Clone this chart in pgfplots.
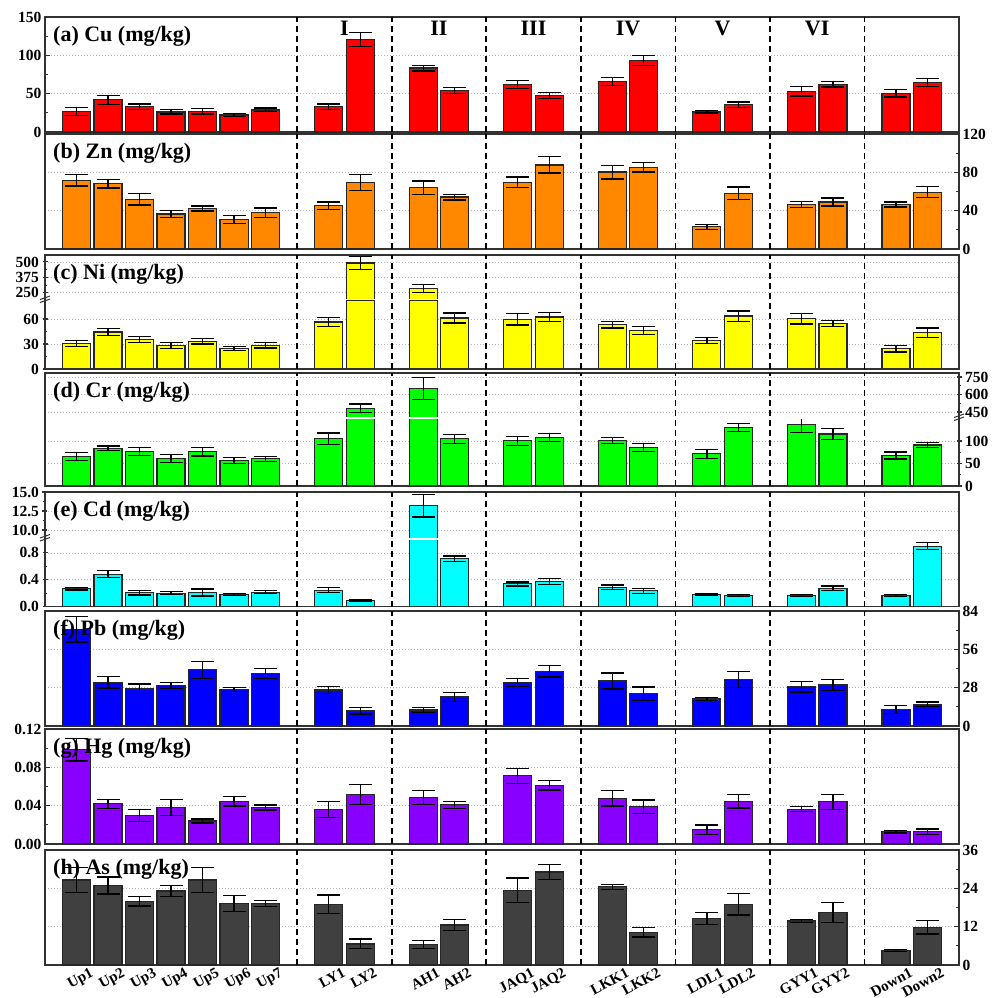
\documentclass[border=0pt]{standalone}
\usepackage{pgfplots}
\pgfplotsset{compat=1.18}
\usepackage{pgfplotstable}
\usepackage{fontspec}
\setmainfont{Liberation Serif}
\newcommand\tickfont{\bfseries\fontsize{15.5}{16}\selectfont}
\newcommand\titlefont{\bfseries\fontsize{22}{24}\selectfont}
\newcommand\catfont{\bfseries\fontsize{15}{16}\selectfont}
\definecolor{cCu}{RGB}{255,0,0}
\definecolor{cZn}{RGB}{255,136,0}
\definecolor{cNi}{RGB}{255,255,0}
\definecolor{cCr}{RGB}{0,255,0}
\definecolor{cCd}{RGB}{0,255,255}
\definecolor{cPb}{RGB}{0,0,255}
\definecolor{cHg}{RGB}{136,0,255}
\definecolor{cAs}{RGB}{64,64,64}
\definecolor{frm}{RGB}{50,50,50}

\pgfplotstableread{
x v e
1 26.6 5
2 41.9 5.7
3 32.8 3.7
4 26.2 2.8
5 27.0 3.5
6 22.3 2.0
7 28.8 2.4
9 32.8 3.7
10 120.5 9
12 83.4 3.7
13 53.7 3.9
15 62.0 5.2
16 47.6 3.9
18 65.5 5.2
19 93.4 6.8
21 26.2 1.5
22 35.8 3.5
24 53.3 6.5
25 62.4 3.7
27 50.7 5
28 64.6 5
}\tabA

\pgfplotstableread{
x v e
1 71.8 6
2 68.0 4.4
3 51.8 6
4 36.6 3.5
5 42.3 2.5
6 30.6 4
7 38.0 4.8
9 45.0 3.9
10 69.7 8.3
12 64.0 6.9
13 54.2 3
15 69.7 5.5
16 87.7 8.5
18 80.3 7.2
19 85.2 5
21 23.2 2.6
22 58.0 6.7
24 46.5 3
25 49.0 4.2
27 46.5 2.6
28 59.2 5.8
}\tabB

\pgfplotstableread{
x v e
1 30.6 4
2 44.4 4.4
3 35.3 3.4
4 28.2 3.4
5 33.3 3.2
6 24.6 2.6
7 28.6 3.4
9 56.3 5.6
10 492 51
12 285 31
13 61.1 6
15 59.5 6.7
16 62.3 5.5
18 53.2 4
19 46.4 4.6
21 34.1 3.6
22 63.5 6.2
24 60.3 6.3
25 54.8 3.8
27 24.2 3.8
28 43.7 5.6
}\tabC

\pgfplotstableread{
x v e
1 65 9
2 83.7 5
3 77 9
4 60.7 9
5 76.3 9.6
6 57 6.7
7 60.7 5.5
9 105 13
10 482 36
12 652 95
13 105 10
15 100.7 10
16 108 9
18 101.5 6.3
19 85.2 9
21 71.9 10
22 130 9
24 136 17
25 115.6 12.6
27 68 7.8
28 91 6
}\tabD

\pgfplotstableread{
x v e
1 0.264 0.017
2 0.483 0.052
3 0.209 0.035
4 0.199 0.02
5 0.209 0.052
6 0.179 0.017
7 0.214 0.02
9 0.244 0.035
10 0.095 0.012
12 13.2 1.47
13 0.716 0.04
15 0.338 0.03
16 0.373 0.047
18 0.289 0.03
19 0.234 0.037
21 0.179 0.01
22 0.169 0.015
24 0.169 0.015
25 0.274 0.03
27 0.169 0.015
28 0.90 0.052
}\tabE

\pgfplotstableread{
x v e
1 70.7 9.4
2 32 4.3
3 27.1 3.5
4 29.5 2.2
5 41 6.1
6 26.6 1.3
7 38.3 3.5
9 26.3 2.8
10 11 2.3
12 11.7 1.7
13 21.2 3.5
15 31.7 3
16 40 4.1
18 32.9 5.9
19 23.7 4.9
21 19.8 1.1
22 33.9 6
24 28.8 3.9
25 30 4.1
27 12 3
28 15.9 1.6
}\tabF

\pgfplotstableread{
x v e
1 0.0983 0.0118
2 0.0419 0.0049
3 0.030 0.0062
4 0.038 0.0081
5 0.024 0.0021
6 0.0447 0.0051
7 0.038 0.0026
9 0.036 0.0081
10 0.0514 0.0104
12 0.0486 0.0074
13 0.0409 0.0035
15 0.0712 0.0078
16 0.0613 0.0049
18 0.0479 0.0083
19 0.0388 0.0072
21 0.0148 0.0049
22 0.0447 0.0072
24 0.0363 0.0026
25 0.044 0.0079
27 0.013 0.0014
28 0.013 0.0028
}\tabG

\pgfplotstableread{
x v e
1 26.6 3.9
2 24.9 2.7
3 20 1.5
4 23.2 1.7
5 26.6 4
6 19.3 2.5
7 19.3 1
9 19 2.9
10 6.6 1.5
12 6.4 1.2
13 12.5 1.8
15 23.4 3.8
16 29.1 2.4
18 24.5 0.8
19 10.3 1.5
21 14.5 1.9
22 19 3.3
24 13.8 0.5
25 16.5 3.1
27 4.5 0.3
28 11.8 2.1
}\tabH

\pgfplotsset{
  base/.style={
    scale only axis, width=914pt, xmin=0, xmax=29,
    ybar, bar width=0.89,
    xtick=\empty,
    tick align=inside,
    major tick length=5pt, minor tick length=3pt,
    every tick/.append style={frm, line width=1.1pt},
    minor y tick num=1,
    scaled y ticks=false,
    ymajorgrids,
    major grid style={gray!60, dash pattern=on 1.2pt off 1.8pt, line width=0.7pt},
    yticklabel style={font=\tickfont},
    /pgf/number format/assume math mode=true,
    clip marker paths=true,
  },
  framed/.style={
    axis line style={frm, line width=1.5pt},
    extra x ticks={8,11,14,17,20,23,26},
    extra x tick labels={,,,,,,},
    extra x tick style={grid=major, major tick length=0pt,
      major grid style={black, line width=1.7pt, dash pattern=on 6pt off 4pt}},
  },
  sub/.style={axis x line=none, y axis line style={draw=none}},
  barplot/.style={fill=#1, draw=black!85, line width=1.2pt,
    error bars/.cd, y dir=both, y explicit,
    error bar style={line width=1.3pt, black},
    error mark options={rotate=90, line width=1.3pt, black, mark size=11.5pt}},
}
\tikzset{
  ttl/.style={anchor=north west, inner sep=0pt, font=\titlefont, xshift=8pt, yshift=-9pt},
  rom/.style={anchor=north, inner sep=0pt, font=\titlefont, yshift=-4pt},
  gapline/.style={fill=white},
}

\begin{document}
\begin{tikzpicture}
\useasboundingbox (0,0) rectangle (998pt,-997pt);

% (a) Cu
\begin{axis}[base, framed, at={(45pt,-17pt)}, anchor=north west, height=115pt,
  ymin=0, ymax=150, ytick={0,50,100,150}, ytick pos=left]
\addplot[barplot=cCu] table[x=x,y=v,y error=e]{\tabA};
\node[ttl] at (rel axis cs:0,1) {(a) Cu (mg/kg)};
\node[rom] at (axis cs:9.5,150) {I};
\node[rom] at (axis cs:12.5,150) {II};
\node[rom] at (axis cs:15.5,150) {III};
\node[rom] at (axis cs:18.5,150) {IV};
\node[rom] at (axis cs:21.5,150) {V};
\node[rom] at (axis cs:24.5,150) {VI};
\end{axis}

% (b) Zn
\begin{axis}[base, framed, at={(45pt,-134pt)}, anchor=north west, height=115pt,
  ymin=0, ymax=120, ytick={0,40,80,120}, ytick pos=right, yticklabel pos=right]
\addplot[barplot=cZn] table[x=x,y=v,y error=e]{\tabB};
\node[ttl] at (rel axis cs:0,1) {(b) Zn (mg/kg)};
\end{axis}

% (c) Ni (broken)
\begin{axis}[base, sub, axis y line=left, at={(45pt,-369pt)}, anchor=south west, height=68.5pt,
  ymin=0, ymax=82.2, ytick={0,30,60}]
\addplot[barplot=cNi] table[x=x,y=v,y error=e]{\tabC};
\end{axis}
\begin{axis}[base, sub, axis y line=left, at={(45pt,-300.2pt)}, anchor=south west, height=45.2pt,
  ymin=190, ymax=556, ytick={250,375,500}]
\addplot[restrict y to domain=190:100000, barplot=cNi] table[x=x,y=v,y error=e]{\tabC};
\fill[gapline] (rel axis cs:0,0) rectangle ([yshift=1.6pt]rel axis cs:1,0);
\end{axis}
\begin{axis}[base, framed, at={(45pt,-255pt)}, anchor=north west, height=114pt,
  ymin=0, ymax=1, ytick=\empty]
\node[ttl] at (rel axis cs:0,1) {(c) Ni (mg/kg)};
\end{axis}

% (d) Cr (broken)
\begin{axis}[base, sub, axis y line=right, at={(45pt,-486pt)}, anchor=south west, height=67.5pt,
  ymin=0, ymax=150, ytick={0,50,100}]
\addplot[barplot=cCr] table[x=x,y=v,y error=e]{\tabD};
\end{axis}
\begin{axis}[base, sub, axis y line=right, at={(45pt,-418.5pt)}, anchor=south west, height=45.5pt,
  ymin=394, ymax=784, ytick={450,600,750}]
\addplot[restrict y to domain=394:100000, barplot=cCr] table[x=x,y=v,y error=e]{\tabD};
\fill[gapline] (rel axis cs:0,0) rectangle ([yshift=1.6pt]rel axis cs:1,0);
\end{axis}
\begin{axis}[base, framed, at={(45pt,-373pt)}, anchor=north west, height=113pt,
  ymin=0, ymax=1, ytick=\empty]
\node[ttl] at (rel axis cs:0,1) {(d) Cr (mg/kg)};
\end{axis}

% (e) Cd (broken)
\begin{axis}[base, sub, axis y line=left, at={(45pt,-606.5pt)}, anchor=south west, height=67pt,
  ymin=0, ymax=1.0, ytick={0,0.4,0.8},
  yticklabel style={/pgf/number format/.cd, fixed, fixed zerofill, precision=1}]
\addplot[barplot=cCd] table[x=x,y=v,y error=e]{\tabE};
\end{axis}
\begin{axis}[base, sub, axis y line=left, at={(45pt,-539.5pt)}, anchor=south west, height=47.5pt,
  ymin=8.75, ymax=15, ytick={10,12.5,15},
  yticklabel style={/pgf/number format/.cd, fixed, fixed zerofill, precision=1}]
\addplot[restrict y to domain=8.75:1000, barplot=cCd] table[x=x,y=v,y error=e]{\tabE};
\fill[gapline] (rel axis cs:0,0) rectangle ([yshift=1.6pt]rel axis cs:1,0);
\end{axis}
\begin{axis}[base, framed, at={(45pt,-492pt)}, anchor=north west, height=114.5pt,
  ymin=0, ymax=1, ytick=\empty]
\node[ttl] at (rel axis cs:0,1) {(e) Cd (mg/kg)};
\end{axis}

% (f) Pb
\begin{axis}[base, framed, at={(45pt,-611pt)}, anchor=north west, height=115pt,
  ymin=0, ymax=84, ytick={0,28,56,84}, ytick pos=right, yticklabel pos=right]
\addplot[barplot=cPb] table[x=x,y=v,y error=e]{\tabF};
\node[ttl] at (rel axis cs:0,1) {(f) Pb (mg/kg)};
\end{axis}

% (g) Hg
\begin{axis}[base, framed, at={(45pt,-729pt)}, anchor=north west, height=115pt,
  ymin=0, ymax=0.12, ytick={0,0.04,0.08,0.12}, ytick pos=left,
  yticklabel style={/pgf/number format/.cd, fixed, fixed zerofill, precision=2}]
\addplot[barplot=cHg] table[x=x,y=v,y error=e]{\tabG};
\node[ttl] at (rel axis cs:0,1) {(g) Hg (mg/kg)};
\end{axis}

% (h) As
\begin{axis}[base, framed, at={(45pt,-850pt)}, anchor=north west, height=115pt,
  ymin=0, ymax=36, ytick={0,12,24,36}, ytick pos=right, yticklabel pos=right,
  xtick={1,2,3,4,5,6,7,9,10,12,13,15,16,18,19,21,22,24,25,27,28},
  xticklabels={Up1,Up2,Up3,Up4,Up5,Up6,Up7,LY1,LY2,AH1,AH2,JAQ1,JAQ2,LKK1,LKK2,LDL1,LDL2,GYY1,GYY2,Down1,Down2},
  xtick style={draw=none},
  xticklabel style={font=\catfont, xshift=13pt, yshift=-2pt, rotate=28, anchor=north east, inner sep=0pt}]
\addplot[barplot=cAs] table[x=x,y=v,y error=e]{\tabH};
\node[ttl] at (rel axis cs:0,1) {(h) As (mg/kg)};
\end{axis}

% axis-break marks
\draw[frm, line width=1pt] (40pt,-302.5pt) -- (50pt,-299pt);
\draw[frm, line width=1pt] (40pt,-299.5pt) -- (50pt,-296pt);
\draw[frm, line width=1pt] (954pt,-420.5pt) -- (964pt,-417pt);
\draw[frm, line width=1pt] (954pt,-417.5pt) -- (964pt,-414pt);
\draw[frm, line width=1pt] (40pt,-541pt) -- (50pt,-537.5pt);
\draw[frm, line width=1pt] (40pt,-538pt) -- (50pt,-534.5pt);
\end{tikzpicture}
\end{document}
